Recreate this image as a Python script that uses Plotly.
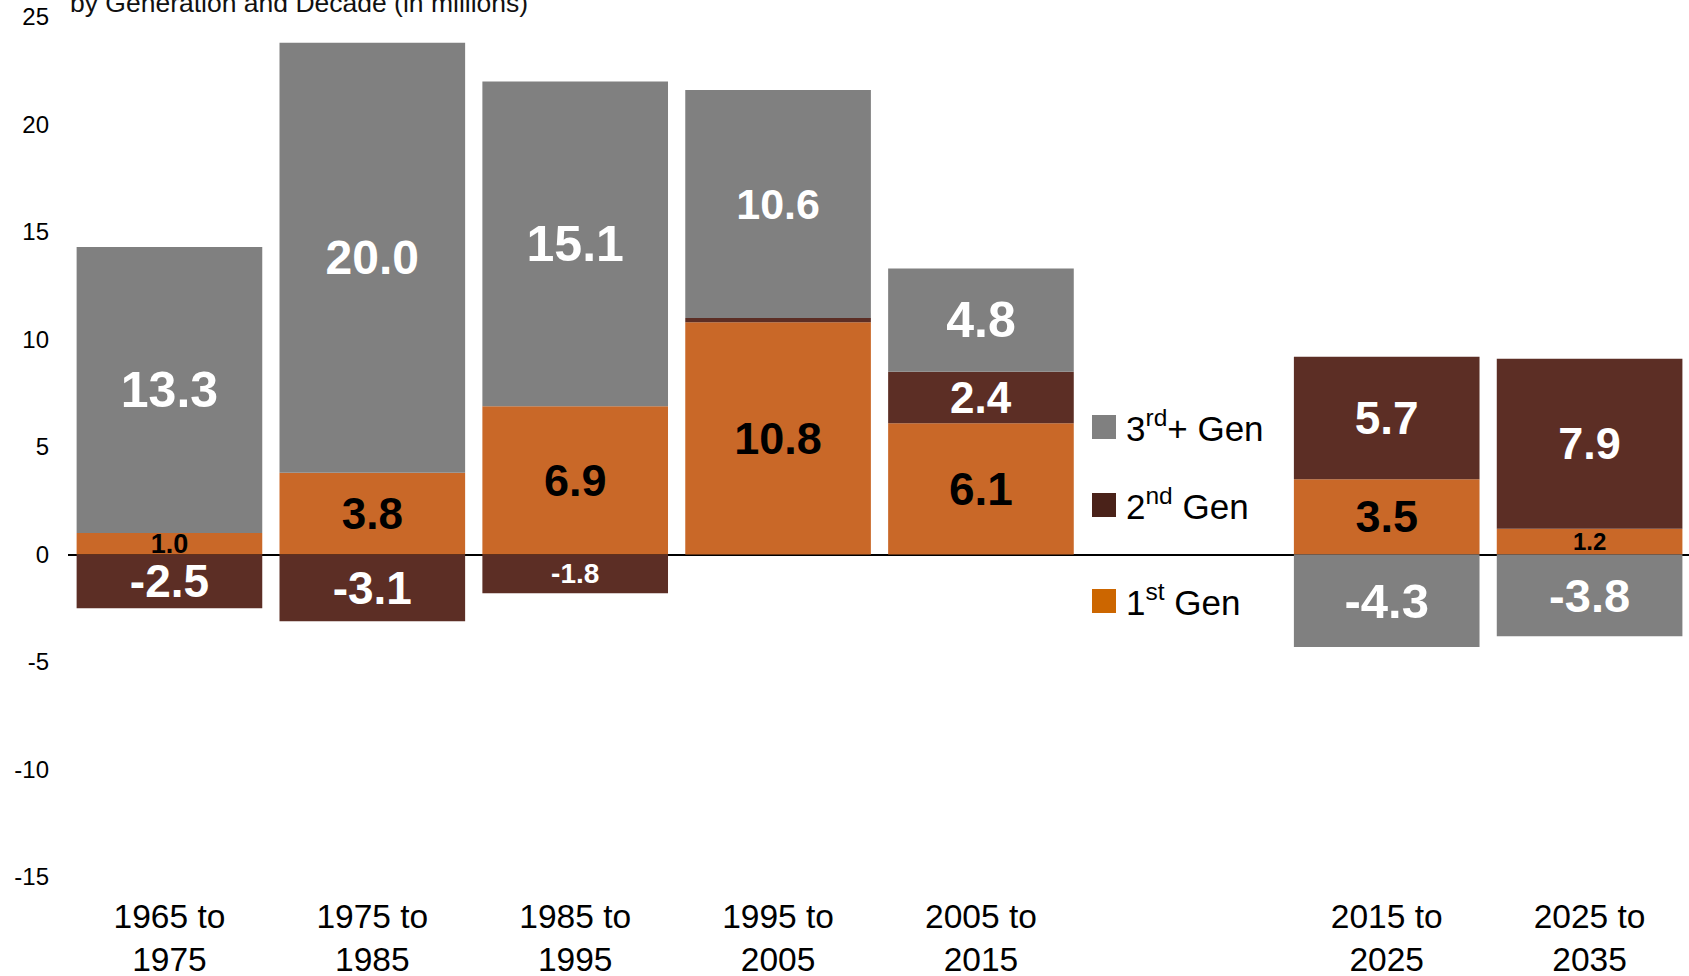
import plotly.graph_objects as go

# ---------------- data ----------------
categories = ["1965 to<br>1975", "1975 to<br>1985", "1985 to<br>1995", "1995 to<br>2005",
              "2005 to<br>2015", " ", "2015 to<br>2025", "2025 to<br>2035"]
first_gen = [1.0, 3.8, 6.9, 10.8, 6.1, None, 3.5, 1.2]
second_gen = [-2.5, -3.1, -1.8, 0.2, 2.4, None, 5.7, 7.9]
third_gen = [13.3, 20.0, 15.1, 10.6, 4.8, None, -4.3, -3.8]
first_labels = ["1.0", "3.8", "6.9", "10.8", "6.1", None, "3.5", "1.2"]
second_labels = ["-2.5", "-3.1", "-1.8", None, "2.4", None, "5.7", "7.9"]
third_labels = ["13.3", "20.0", "15.1", "10.6", "4.8", None, "-4.3", "-3.8"]
series_names = ["1<sup>st</sup> Gen", "2<sup>nd</sup> Gen", "3<sup>rd</sup>+ Gen"]
y_ticks = [-15, -10, -5, 0, 5, 10, 15, 20, 25]
y_tick_labels = ["-15", "-10", "-5", "0", "5", "10", "15", "20", "25"]
title_text = "by Generation and Decade (in millions)"

# ---------------- style ----------------
W, H = 1689, 976
M_L, M_R, M_T, M_B = 68, 0, 17, 99
PW, PH = W - M_L - M_R, H - M_T - M_B
C_GRAY = "#808080"
C_BROWN = "#5C2E25"
C_ORANGE = "#C96828"
LEG_COLORS = ["#CC6600", "#4A2219", "#808080"]
FONT = "Liberation Sans, Arial, sans-serif"

first_sizes = [27, 44, 45, 45, 46, 20, 45, 24]
second_sizes = [46, 46, 28, 20, 44, 20, 46, 45]
third_sizes = [50, 48, 50, 43, 50, 20, 49, 47]
first_tc = ["black"] * 8
second_tc = ["white"] * 8
third_tc = ["white"] * 8


def px_x(p):
    return (p - M_L) / PW


def px_y(p):
    return (M_T + PH - p) / PH


fig = go.Figure()
for vals, labels, color, sizes, tcs, name in [
    (first_gen, first_labels, C_ORANGE, first_sizes, first_tc, series_names[0]),
    (second_gen, second_labels, C_BROWN, second_sizes, second_tc, series_names[1]),
    (third_gen, third_labels, C_GRAY, third_sizes, third_tc, series_names[2]),
]:
    fig.add_trace(go.Bar(
        x=categories, y=vals, name=name, marker=dict(color=color, line=dict(width=0)),
        text=labels, textposition="inside", insidetextanchor="middle",
        constraintext="none", textangle=0,
        textfont=dict(family=FONT, size=sizes, color=tcs, weight="bold"),
        showlegend=False, hoverinfo="skip",
    ))

# custom legend (matches reference layout)
leg_centers = [601, 505, 427]
for name, col, cy in zip(series_names, LEG_COLORS, leg_centers):
    fig.add_shape(type="rect", xref="paper", yref="paper",
                  x0=px_x(1092), x1=px_x(1116), y0=px_y(cy + 12), y1=px_y(cy - 12),
                  fillcolor=col, line=dict(width=0))
    fig.add_annotation(xref="paper", yref="paper", x=px_x(1124), y=px_y(cy - 1),
                       xanchor="left", yanchor="middle", text=name, showarrow=False,
                       font=dict(family=FONT, size=35, color="black"))

fig.add_annotation(xref="paper", yref="paper", x=px_x(68), y=px_y(3),
                   xanchor="left", yanchor="middle", text=title_text, showarrow=False,
                   font=dict(family=FONT, size=26.5, color="#111111"))

fig.update_layout(
    width=W, height=H, barmode="relative", bargap=0.085,
    margin=dict(l=M_L, r=M_R, t=M_T, b=M_B, autoexpand=False),
    plot_bgcolor="white", paper_bgcolor="white",
    font=dict(family=FONT, color="black"),
)
fig.update_xaxes(range=[-0.5, 7.49], showgrid=False, showline=False, ticks="",
                 tickfont=dict(family=FONT, size=33.5, color="black"),
                 ticklabelstandoff=16, automargin=False)
fig.update_yaxes(range=[-15, 25], tickvals=y_ticks, ticktext=y_tick_labels,
                 showgrid=False, showline=False,
                 zeroline=True, zerolinecolor="black", zerolinewidth=2, ticks="",
                 tickfont=dict(family=FONT, size=24, color="black"),
                 ticklabelstandoff=18, automargin=False)

fig.write_html("out.html", config={"displayModeBar": False},
               post_script="document.body.style.margin='0';document.body.style.overflow='hidden';")
